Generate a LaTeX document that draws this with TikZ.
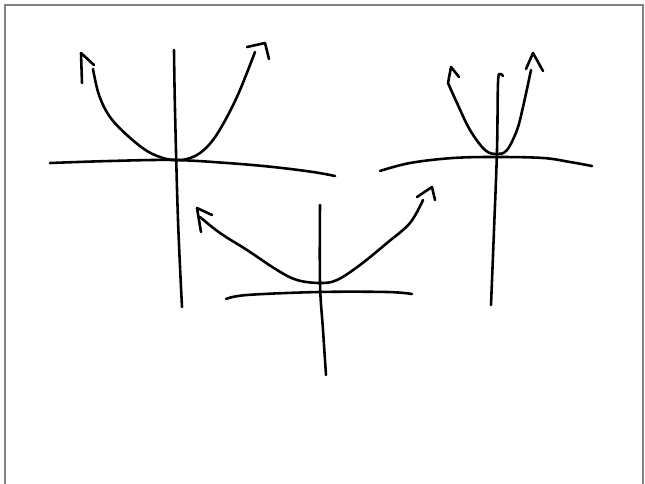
\documentclass[tikz,border=0pt]{standalone}
\usepackage{tikz}
\usetikzlibrary{calc}
\tikzset{
  ink/.style={line width=2.2pt, color=black, line cap=round, line join=round},
  inkcurve/.style={ink, smooth, tension=0.6},
  pageframe/.style={line width=0.9pt, color=black!50},
}

\begin{document}
\begin{tikzpicture}[x=0.03cm,y=-0.03cm]
  \useasboundingbox (0,0) rectangle (645,484);
  % page edge
  \draw[pageframe] (5,484) -- (5,5) -- (643,5) -- (643,484);
  % left sketch: axes
  \draw[inkcurve] plot coordinates {(50,163) (110,161) (173,160) (227,163) (273,167) (313,172) (335,176)};
  \draw[inkcurve] plot coordinates {(174,50) (175,110) (178,220) (182,307)};
  % left sketch: parabola and its hand drawn tips
  \draw[inkcurve] plot coordinates {(93,69) (99,95) (110,117) (128,136) (147,151) (163,158) (175,160) (187,159) (200,153) (213,140) (227,117) (240,90) (255,52)};
  \draw[ink] (82,83) -- (81,53) -- (94,65);
  \draw[ink] (247,47) -- (265,43) -- (269,59);
  % right sketch: axes
  \draw[inkcurve] plot coordinates {(380,171) (410,163) (453,158) (497,157) (543,158) (570,162) (592,166)};
  \draw[inkcurve] plot coordinates {(503,76) (500,74) (498,83) (497,150) (494,230) (491,305)};
  % right sketch: parabola and its tips
  \draw[inkcurve] plot coordinates {(448,83) (457,103) (470,130) (485,150) (497,154) (507,150) (517,130) (523,107) (531,70)};
  \draw[ink] (448,83) -- (451,67) -- (459,77);
  \draw[ink] (526,69) -- (533,53) -- (543,71);
  % middle sketch: axes
  \draw[inkcurve] plot coordinates {(226,299) (247,295) (319,292) (387,292) (412,294)};
  \draw[inkcurve] plot coordinates {(320,205) (320,283) (323,330) (326,375)};
  % middle sketch: parabola and its tips
  \draw[inkcurve] plot coordinates {(200,217) (220,233) (247,250) (277,270) (297,280) (320,283) (337,280) (360,265) (387,243) (410,223) (423,200)};
  \draw[ink] (201,232) -- (197,208) -- (212,215);
  \draw[ink] (417,197) -- (432,187) -- (435,200);
\end{tikzpicture}
\end{document}
